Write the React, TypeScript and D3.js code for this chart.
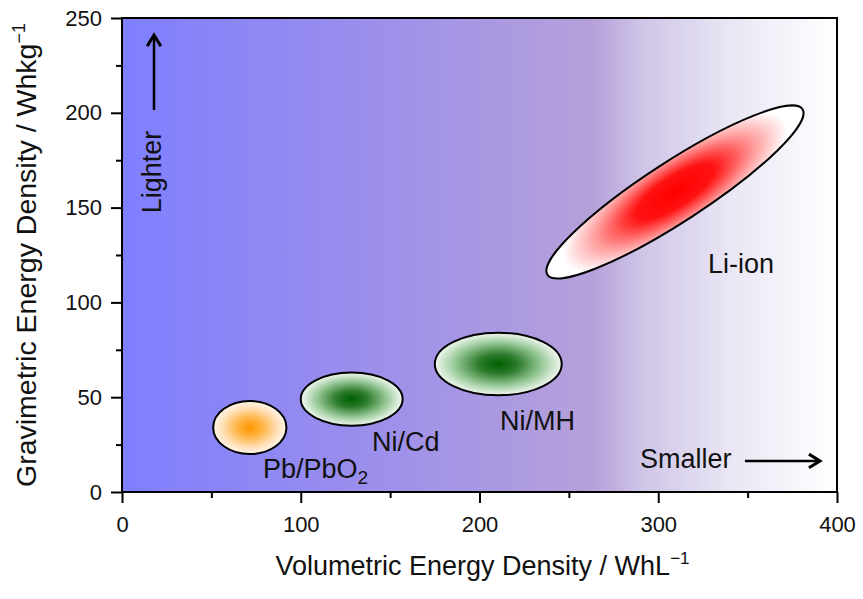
import React, { useRef, useEffect } from 'react';
import * as d3 from 'd3';

// battery chemistries (WhL-1 / Whkg-1)
const chemistries = ['Pb/PbO2', 'Ni/Cd', 'Ni/MH'];
const volRange = [[51, 92], [100, 157], [175, 246]];
const gravRange = [[20, 48], [35, 63], [51, 84]];
const fillKind = ['orange', 'green', 'green'];

// Li-ion is a tilted region: ends of its long axis + vertical half-span at the middle
const liIonTips = [[238, 114.6], [380.7, 201.9]];
const liIonHalfSpan = 18.7;

// label anchors (data units)
const labelNames = ['Pb/PbO2', 'Ni/Cd', 'Ni/MH', 'Li-ion'];
const labelX = [78.9, 139.8, 211.5, 327.8];
const labelY = [7.4, 21.6, 32.7, 115.5];

const xTicks = [0, 100, 200, 300, 400];
const xMinor = [50, 150, 250, 350];
const yTicks = [0, 50, 100, 150, 200, 250];
const yMinor = [25, 75, 125, 175, 225];

const FONT = '"Liberation Sans", Arial, Helvetica, sans-serif';

const App = () => {
    const svgRef = useRef<SVGSVGElement>(null);

    useEffect(() => {
        const svg = d3.select(svgRef.current);
        svg.selectAll('*').remove();

        const left = 122, right = 837, top = 18, bottom = 492;
        const x = d3.scaleLinear().domain([0, 400]).range([left, right]);
        const y = d3.scaleLinear().domain([0, 250]).range([bottom, top]);

        const defs = svg.append('defs');

        // background: blue -> lilac -> white
        const bg = defs.append('linearGradient').attr('id', 'bg')
            .attr('x1', 0).attr('x2', 1).attr('y1', 0).attr('y2', 0);
        [[0, '#7f7fff'], [0.33, '#9a8eec'], [0.66, '#b6a1da'], [0.73, '#d0c6e8'],
         [0.86, '#ebe8f5'], [1, '#ffffff']].forEach(([o, c]) =>
            bg.append('stop').attr('offset', o as number).attr('stop-color', c as string));

        const orange = defs.append('radialGradient').attr('id', 'orange');
        [[0, '#ff9600'], [0.35, '#ffb444'], [0.75, '#ffe0b8'], [1, '#fff6ea']].forEach(([o, c]) =>
            orange.append('stop').attr('offset', o as number).attr('stop-color', c as string));

        const green = defs.append('radialGradient').attr('id', 'green');
        [[0, '#006000'], [0.3, '#2a7a2a'], [0.7, '#9ccb9c'], [1, '#f2f9f2']].forEach(([o, c]) =>
            green.append('stop').attr('offset', o as number).attr('stop-color', c as string));

        // plot background
        svg.append('rect')
            .attr('x', left).attr('y', top)
            .attr('width', right - left).attr('height', bottom - top)
            .attr('fill', 'url(#bg)');

        // axis-aligned regions
        chemistries.forEach((name, i) => {
            const [x0, x1] = volRange[i];
            const [y0, y1] = gravRange[i];
            svg.append('ellipse')
                .attr('cx', (x(x0) + x(x1)) / 2)
                .attr('cy', (y(y0) + y(y1)) / 2)
                .attr('rx', (x(x1) - x(x0)) / 2)
                .attr('ry', (y(y0) - y(y1)) / 2)
                .attr('fill', `url(#${fillKind[i]})`)
                .attr('stroke', '#000')
                .attr('stroke-width', 2);
        });

        // tilted Li-ion region
        const px0 = x(liIonTips[0][0]), py0 = y(liIonTips[0][1]);
        const px1 = x(liIonTips[1][0]), py1 = y(liIonTips[1][1]);
        const cx = (px0 + px1) / 2, cy = (py0 + py1) / 2;
        const a = Math.hypot(px1 - px0, py1 - py0) / 2;
        const th = Math.atan2(py0 - py1, px1 - px0);
        const h = y(0) - y(liIonHalfSpan);
        const b = 1 / Math.sqrt((1 / (h * h) - Math.sin(th) ** 2 / (a * a)) / Math.cos(th) ** 2);

        // stretched across the short axis so the red reaches the long edges
        const red = defs.append('radialGradient').attr('id', 'red')
            .attr('gradientUnits', 'userSpaceOnUse')
            .attr('cx', 0).attr('cy', 0).attr('r', a)
            .attr('gradientTransform', `scale(1, ${b / (0.6 * a)})`);
        [[0, '#ff0000'], [0.3, '#ff1212'], [0.6, '#ff9a9a'], [0.86, '#ffffff'], [1, '#ffffff']].forEach(([o, c]) =>
            red.append('stop').attr('offset', o as number).attr('stop-color', c as string));

        svg.append('ellipse')
            .attr('transform', `translate(${cx},${cy}) rotate(${-th * 180 / Math.PI})`)
            .attr('cx', 0).attr('cy', 0)
            .attr('rx', a).attr('ry', b)
            .attr('fill', 'url(#red)')
            .attr('stroke', '#000')
            .attr('stroke-width', 2);

        // region labels
        labelNames.forEach((name, i) => {
            const t = svg.append('text')
                .attr('x', x(labelX[i])).attr('y', y(labelY[i]))
                .attr('font-family', FONT).attr('font-size', 27).attr('fill', '#111');
            if (name === 'Pb/PbO2') {
                t.append('tspan').text('Pb/PbO');
                t.append('tspan').attr('dy', 6).attr('font-size', 19).text('2');
            } else {
                t.text(name);
            }
        });

        // annotation arrows
        const arrow = (x1: number, y1: number, x2: number, y2: number) => {
            svg.append('line')
                .attr('x1', x1).attr('y1', y1).attr('x2', x2).attr('y2', y2)
                .attr('stroke', '#000').attr('stroke-width', 2.5);
            const ang = Math.atan2(y2 - y1, x2 - x1);
            const len = 13, spread = 0.55;
            const pts = [
                [x2 - len * Math.cos(ang - spread), y2 - len * Math.sin(ang - spread)],
                [x2, y2],
                [x2 - len * Math.cos(ang + spread), y2 - len * Math.sin(ang + spread)],
            ];
            svg.append('polyline')
                .attr('points', pts.map(p => p.join(',')).join(' '))
                .attr('fill', 'none').attr('stroke', '#000')
                .attr('stroke-width', 3).attr('stroke-linejoin', 'miter');
        };

        svg.append('text')
            .attr('x', x(289.8)).attr('y', y(12.7))
            .attr('font-family', FONT).attr('font-size', 27).attr('fill', '#111')
            .text('Smaller');
        arrow(x(348.5), y(16.4), x(390.5), y(16.4));

        svg.append('text')
            .attr('transform', `translate(${x(21.7)},${y(168.8)}) rotate(-90)`)
            .attr('text-anchor', 'middle')
            .attr('font-family', FONT).attr('font-size', 27).attr('fill', '#111')
            .text('Lighter');
        arrow(x(17.9), y(201.5), x(17.9), y(241));

        // axes: major + minor ticks outside
        const xAxis = svg.append('g').attr('transform', `translate(0,${bottom})`)
            .call(d3.axisBottom(x).tickValues(xTicks).tickSize(11).tickPadding(13).tickSizeOuter(0));
        svg.append('g').attr('transform', `translate(0,${bottom})`)
            .call(d3.axisBottom(x).tickValues(xMinor).tickSize(6).tickFormat(() => '').tickSizeOuter(0));
        const yAxis = svg.append('g').attr('transform', `translate(${left},0)`)
            .call(d3.axisLeft(y).tickValues(yTicks).tickSize(11).tickPadding(9).tickSizeOuter(0));
        svg.append('g').attr('transform', `translate(${left},0)`)
            .call(d3.axisLeft(y).tickValues(yMinor).tickSize(6).tickFormat(() => '').tickSizeOuter(0));

        svg.selectAll('.domain').remove();
        svg.selectAll('.tick line').attr('stroke', '#000').attr('stroke-width', 2);
        [xAxis, yAxis].forEach(g => g.selectAll('text')
            .attr('font-family', FONT).attr('font-size', 22).attr('fill', '#111'));

        // frame
        svg.append('rect')
            .attr('x', left).attr('y', top)
            .attr('width', right - left).attr('height', bottom - top)
            .attr('fill', 'none').attr('stroke', '#000').attr('stroke-width', 2);

        // axis titles
        const xt = svg.append('text')
            .attr('x', (left + right) / 2 + 3).attr('y', 575)
            .attr('text-anchor', 'middle')
            .attr('font-family', FONT).attr('font-size', 27).attr('fill', '#111');
        xt.append('tspan').text('Volumetric Energy Density / WhL');
        xt.append('tspan').attr('dy', -11).attr('font-size', 17).text('\u22121');

        const yt = svg.append('text')
            .attr('transform', `translate(36,255) rotate(-90)`)
            .attr('text-anchor', 'middle')
            .attr('font-family', FONT).attr('font-size', 28.5).attr('fill', '#111');
        yt.append('tspan').text('Gravimetric Energy Density / Whkg');
        yt.append('tspan').attr('dy', -11).attr('font-size', 18).text('\u22121');
    }, []);

    return (
        <div style={{ position: 'absolute', left: 0, top: 0 }}>
            <svg ref={svgRef} width="863" height="599" style={{ display: 'block', background: '#fff' }}></svg>
        </div>
    );
};

export default App;
